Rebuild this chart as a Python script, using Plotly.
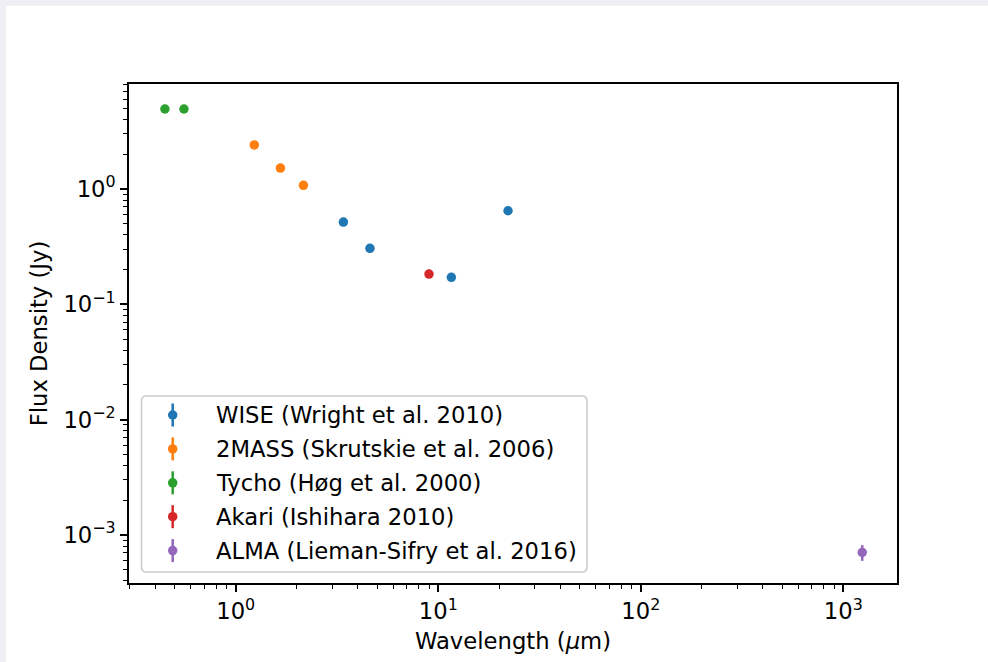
import plotly.graph_objects as go

# Photometry of the source, wavelength in micron, flux density in Jy
wise_wl = [3.4, 4.6, 11.6, 22.1]
wise_flux = [0.517, 0.306, 0.1715, 0.648]

twomass_wl = [1.235, 1.662, 2.159]
twomass_flux = [2.41, 1.52, 1.077]

tycho_wl = [0.447, 0.555]
tycho_flux = [4.94, 4.94]

akari_wl = [9.0]
akari_flux = [0.183]

alma_wl = [1240.0]
alma_flux = [7.07e-4]
alma_err = [1.1e-4]

series_names = [
    "WISE (Wright et al. 2010)",
    "2MASS (Skrutskie et al. 2006)",
    "Tycho (Høg et al. 2000)",
    "Akari (Ishihara 2010)",
    "ALMA (Lieman-Sifry et al. 2016)",
]
series_colors = ["#1f77b4", "#ff7f0e", "#2ca02c", "#d62728", "#9467bd"]

x_tick_vals = [1, 10, 100, 1000]
x_tick_text = ["10<sup>0</sup>", "10<sup>1</sup>", "10<sup>2</sup>", "10<sup>3</sup>"]
y_tick_vals = [1e-3, 1e-2, 1e-1, 1]
y_tick_text = ["10<sup>−3</sup>", "10<sup>−2</sup>", "10<sup>−1</sup>", "10<sup>0</sup>"]

FONT = "DejaVu Sans, sans-serif"
FS = 22.7

# Canvas geometry (pixels)
FIG_W, FIG_H = 988, 662
M_L, M_R, M_T, M_B = 129, 91, 84, 79
PW = FIG_W - M_L - M_R
PH = FIG_H - M_T - M_B


def px_x(p):
    return (p - M_L) / PW


def px_y(p):
    return (FIG_H - M_B - p) / PH


fig = go.Figure()

datasets = [
    (wise_wl, wise_flux, None),
    (twomass_wl, twomass_flux, None),
    (tycho_wl, tycho_flux, None),
    (akari_wl, akari_flux, None),
    (alma_wl, alma_flux, alma_err),
]

for (wl, flux, err), name, color in zip(datasets, series_names, series_colors):
    kw = {}
    if err is not None:
        kw["error_y"] = dict(type="data", array=err, visible=True,
                             color=color, thickness=2.5, width=0)
    fig.add_trace(go.Scatter(
        x=wl, y=flux, mode="markers", name=name,
        marker=dict(color=color, size=9.5, line=dict(width=0)),
        showlegend=False, **kw,
    ))

minor_vals = [m * 10 ** e for e in range(-5, 5) for m in range(2, 10)]

axis_common = dict(
    type="log",
    showgrid=False, zeroline=False,
    showline=True, linecolor="black", linewidth=1.6, mirror=True,
    ticks="outside", ticklen=7, tickwidth=1.6, tickcolor="black",
    tickmode="array",
    tickfont=dict(family=FONT, size=FS, color="black"),
    minor=dict(ticks="outside", ticklen=4, tickwidth=1.2, tickcolor="black",
               tickmode="array", tickvals=minor_vals, showgrid=False),
    automargin=False,
)

fig.update_xaxes(
    **axis_common,
    range=[-0.527, 3.265],
    tickvals=x_tick_vals, ticktext=x_tick_text,
    title=dict(text="Wavelength (<i>μ</i>m)", font=dict(family=FONT, size=FS, color="black"),
               standoff=10),
)
fig.update_yaxes(
    **axis_common,
    range=[-3.416, 0.9104],
    tickvals=y_tick_vals, ticktext=y_tick_text,
    title=dict(text="Flux Density (Jy)", font=dict(family=FONT, size=FS, color="black"),
               standoff=9),
)

shapes = []
# white figure area on the grey page
shapes.append(dict(type="rect", xref="paper", yref="paper", layer="below",
                   x0=px_x(6), x1=px_x(FIG_W + 2), y0=px_y(FIG_H + 2), y1=px_y(6),
                   fillcolor="white", line=dict(width=0)))

# legend frame with rounded corners
lx0, lx1, ly0, ly1 = 141.5, 587, 396, 572
r = 5
rx, ry = r / PW, r / PH
X0, X1 = px_x(lx0), px_x(lx1)
Yt, Yb = px_y(ly0), px_y(ly1)
path = (
    f"M {X0 + rx},{Yt} L {X1 - rx},{Yt} Q {X1},{Yt} {X1},{Yt - ry} "
    f"L {X1},{Yb + ry} Q {X1},{Yb} {X1 - rx},{Yb} "
    f"L {X0 + rx},{Yb} Q {X0},{Yb} {X0},{Yb + ry} "
    f"L {X0},{Yt - ry} Q {X0},{Yt} {X0 + rx},{Yt} Z"
)
shapes.append(dict(type="path", xref="paper", yref="paper", path=path,
                   fillcolor="rgba(255,255,255,0.8)",
                   line=dict(color="#cccccc", width=1.6), layer="above"))

annotations = []
row0, row_gap = 415, 33.9
key_x = 172.7
for i, (name, color) in enumerate(zip(series_names, series_colors)):
    yc = row0 + i * row_gap
    shapes.append(dict(type="line", xref="paper", yref="paper",
                       x0=px_x(key_x), x1=px_x(key_x),
                       y0=px_y(yc - 11.5), y1=px_y(yc + 11.5),
                       line=dict(color=color, width=2.5), layer="above"))
    shapes.append(dict(type="circle", xref="paper", yref="paper",
                       xsizemode="pixel", ysizemode="pixel",
                       xanchor=px_x(key_x), yanchor=px_y(yc),
                       x0=-4.75, x1=4.75, y0=-4.75, y1=4.75,
                       fillcolor=color, line=dict(width=0), layer="above"))
    annotations.append(dict(xref="paper", yref="paper", x=px_x(213.5), y=px_y(yc),
                            xanchor="left", yanchor="middle", showarrow=False,
                            text=name, font=dict(family=FONT, size=FS, color="black")))

fig.update_layout(
    width=FIG_W, height=FIG_H,
    margin=dict(l=M_L, r=M_R, t=M_T, b=M_B, pad=0),
    paper_bgcolor="#eeeef4", plot_bgcolor="white",
    font=dict(family=FONT, size=FS, color="black"),
    shapes=shapes, annotations=annotations,
    showlegend=False,
)

fig.write_html("out.html")
